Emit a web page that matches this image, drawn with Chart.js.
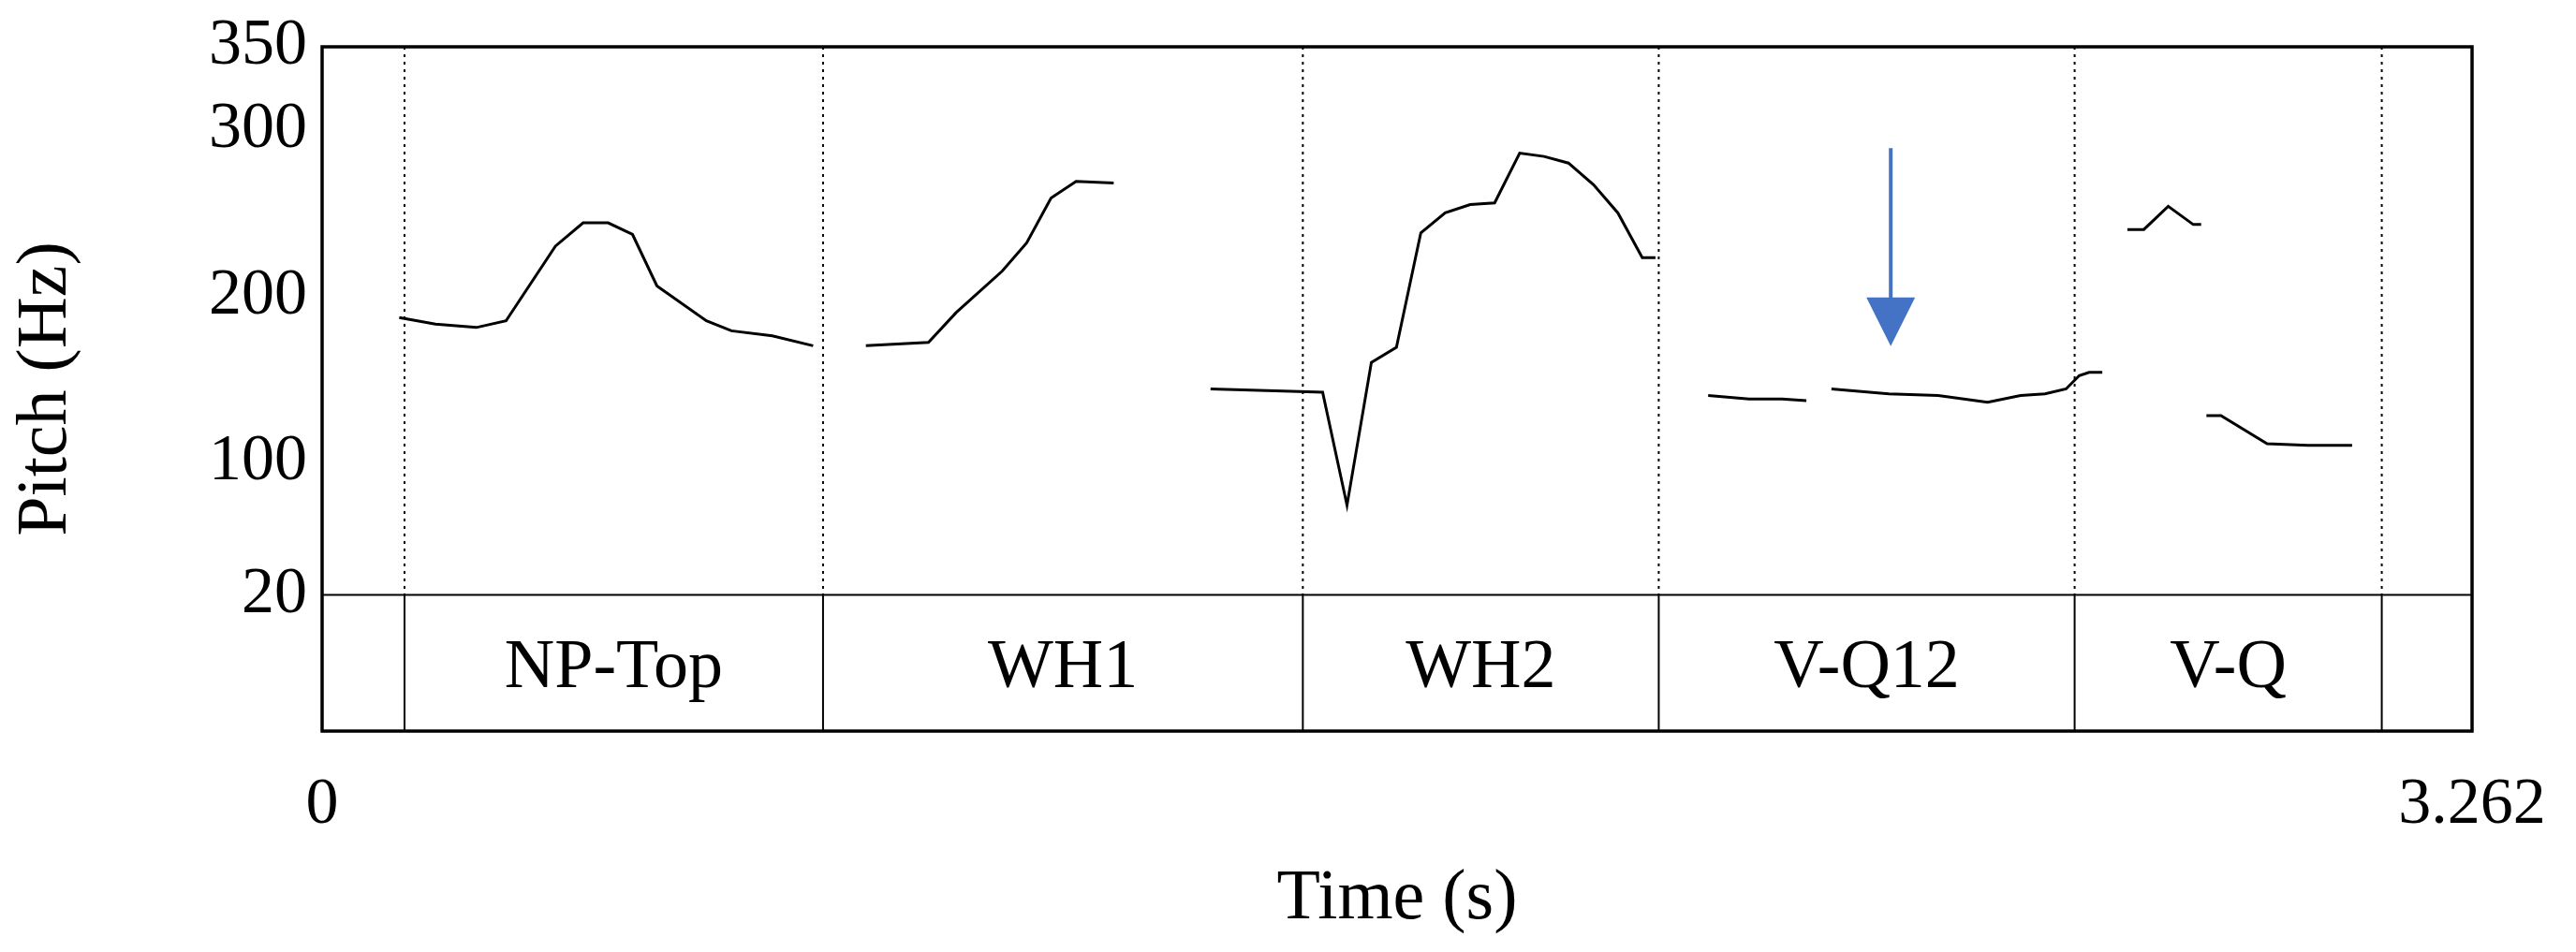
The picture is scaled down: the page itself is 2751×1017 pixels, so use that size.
<!DOCTYPE html>
<html>
<head>
<meta charset="utf-8">
<script src="https://cdn.jsdelivr.net/npm/chart.js@4"></script>
<style>
  html, body { margin: 0; padding: 0; background: #fff; }
  #wrap { width: 2751px; height: 1017px; }
</style>
</head>
<body>
<div id="wrap"><canvas id="chart"></canvas></div>
<script>
// pitch segments as [time (s), pitch (Hz)]
const segNPTop = [[0.117,187],[0.172,183],[0.234,181],[0.279,185],[0.354,230],[0.396,244],[0.434,244],[0.471,237],[0.508,206],[0.583,185],[0.621,179],[0.683,176],[0.745,170]];
const segWH1 = [[0.825,170],[0.920,172],[0.962,190],[1.032,215],[1.069,232],[1.106,259],[1.144,269],[1.201,268]];
const segWH2 = [[1.348,144],[1.518,142],[1.555,74],[1.592,160],[1.630,169],[1.667,238],[1.704,250],[1.742,255],[1.779,256],[1.817,286],[1.854,284],[1.891,280],[1.929,267],[1.966,250],[2.003,223],[2.023,223]];
const segVQ12a = [[2.103,140],[2.165,138],[2.215,138],[2.252,137]];
const segVQ12b = [[2.290,144],[2.377,141],[2.452,140],[2.527,136],[2.577,140],[2.614,141],[2.646,144],[2.666,152],[2.681,154],[2.701,154]];
const segVQa = [[2.739,240],[2.764,240],[2.801,254],[2.839,243],[2.851,243]];
const segVQb = [[2.859,128],[2.881,128],[2.951,111],[3.013,110],[3.080,110]];

const boundaries = [0.125, 0.760, 1.488, 2.028, 2.659, 3.125];
const tierLabels = ['NP-Top', 'WH1', 'WH2', 'V-Q12', 'V-Q'];
const yTicks = [20, 100, 200, 300, 350];
const xTicks = [0, 3.262];
const arrowAt = { t: 2.380, from: 289, to: 172 };

const toXY = (seg) => seg.map(([x, y]) => ({ x, y }));
const segments = [segNPTop, segWH1, segWH2, segVQ12a, segVQ12b, segVQa, segVQb];

const overlay = {
  id: 'overlay',
  afterDraw(chart) {
    const { ctx, chartArea: a, scales: { x, y } } = chart;
    const y20 = y.getPixelForValue(20);
    ctx.save();
    ctx.strokeStyle = '#000';
    ctx.lineWidth = 2;
    // 20 Hz divider
    ctx.beginPath(); ctx.moveTo(a.left, y20); ctx.lineTo(a.right, y20); ctx.stroke();
    // interval boundaries
    boundaries.forEach((b) => {
      const px = x.getPixelForValue(b);
      ctx.setLineDash([3, 5]);
      ctx.beginPath(); ctx.moveTo(px, a.top); ctx.lineTo(px, y20); ctx.stroke();
      ctx.setLineDash([]);
      ctx.beginPath(); ctx.moveTo(px, y20); ctx.lineTo(px, a.bottom); ctx.stroke();
    });
    // tier labels
    ctx.fillStyle = '#000';
    ctx.font = '74px "Liberation Serif"';
    ctx.textAlign = 'center';
    ctx.textBaseline = 'middle';
    tierLabels.forEach((t, i) => {
      const cx = (x.getPixelForValue(boundaries[i]) + x.getPixelForValue(boundaries[i + 1])) / 2;
      ctx.fillText(t, cx, (y20 + a.bottom) / 2 + 6);
    });
    // frame
    ctx.lineWidth = 3.5;
    ctx.strokeRect(a.left, a.top, a.right - a.left, a.bottom - a.top);
    // arrow
    const ax = x.getPixelForValue(arrowAt.t);
    const ay0 = y.getPixelForValue(arrowAt.from);
    const ay1 = y.getPixelForValue(arrowAt.to);
    ctx.strokeStyle = '#4472C4';
    ctx.fillStyle = '#4472C4';
    ctx.lineWidth = 4;
    ctx.beginPath(); ctx.moveTo(ax, ay0); ctx.lineTo(ax, ay1 - 40); ctx.stroke();
    ctx.beginPath();
    ctx.moveTo(ax - 26, ay1 - 48); ctx.lineTo(ax + 26, ay1 - 48); ctx.lineTo(ax, ay1 + 4);
    ctx.closePath(); ctx.fill();
    ctx.restore();
  }
};

new Chart(document.getElementById('chart').getContext('2d'), {
  type: 'line',
  data: {
    datasets: segments.map((s) => ({
      data: toXY(s),
      borderColor: '#000',
      borderWidth: 3,
      pointRadius: 0,
      tension: 0,
      fill: false
    }))
  },
  options: {
    responsive: true,
    maintainAspectRatio: false,
    animation: false,
    layout: { padding: { top: 49, right: 111 } },
    plugins: { legend: { display: false }, tooltip: { enabled: false } },
    scales: {
      x: {
        type: 'linear',
        min: 0,
        max: 3.262,
        afterBuildTicks: (s) => { s.ticks = xTicks.map((v) => ({ value: v })); },
        afterFit: (s) => { s.height = 236; },
        grid: { display: false },
        border: { display: false },
        ticks: {
          color: '#000',
          font: { family: 'Liberation Serif', size: 70 },
          padding: 30,
          maxRotation: 0,
          callback: (v) => (v === 0 ? '0' : '3.262')
        },
        title: {
          display: true,
          text: 'Time (s)',
          color: '#000',
          font: { family: 'Liberation Serif', size: 76 },
          padding: { top: 8, bottom: 10 }
        }
      },
      y: {
        min: -62,
        max: 350,
        afterBuildTicks: (s) => { s.ticks = yTicks.map((v) => ({ value: v })); },
        afterFit: (s) => { s.width = 344; },
        grid: { display: false },
        border: { display: false },
        ticks: {
          color: '#000',
          font: { family: 'Liberation Serif', size: 70 },
          padding: 8
        },
        title: {
          display: true,
          text: 'Pitch (Hz)',
          color: '#000',
          font: { family: 'Liberation Serif', size: 76 },
          padding: { bottom: 0 }
        }
      }
    }
  },
  plugins: [overlay]
});
</script>
</body>
</html>
